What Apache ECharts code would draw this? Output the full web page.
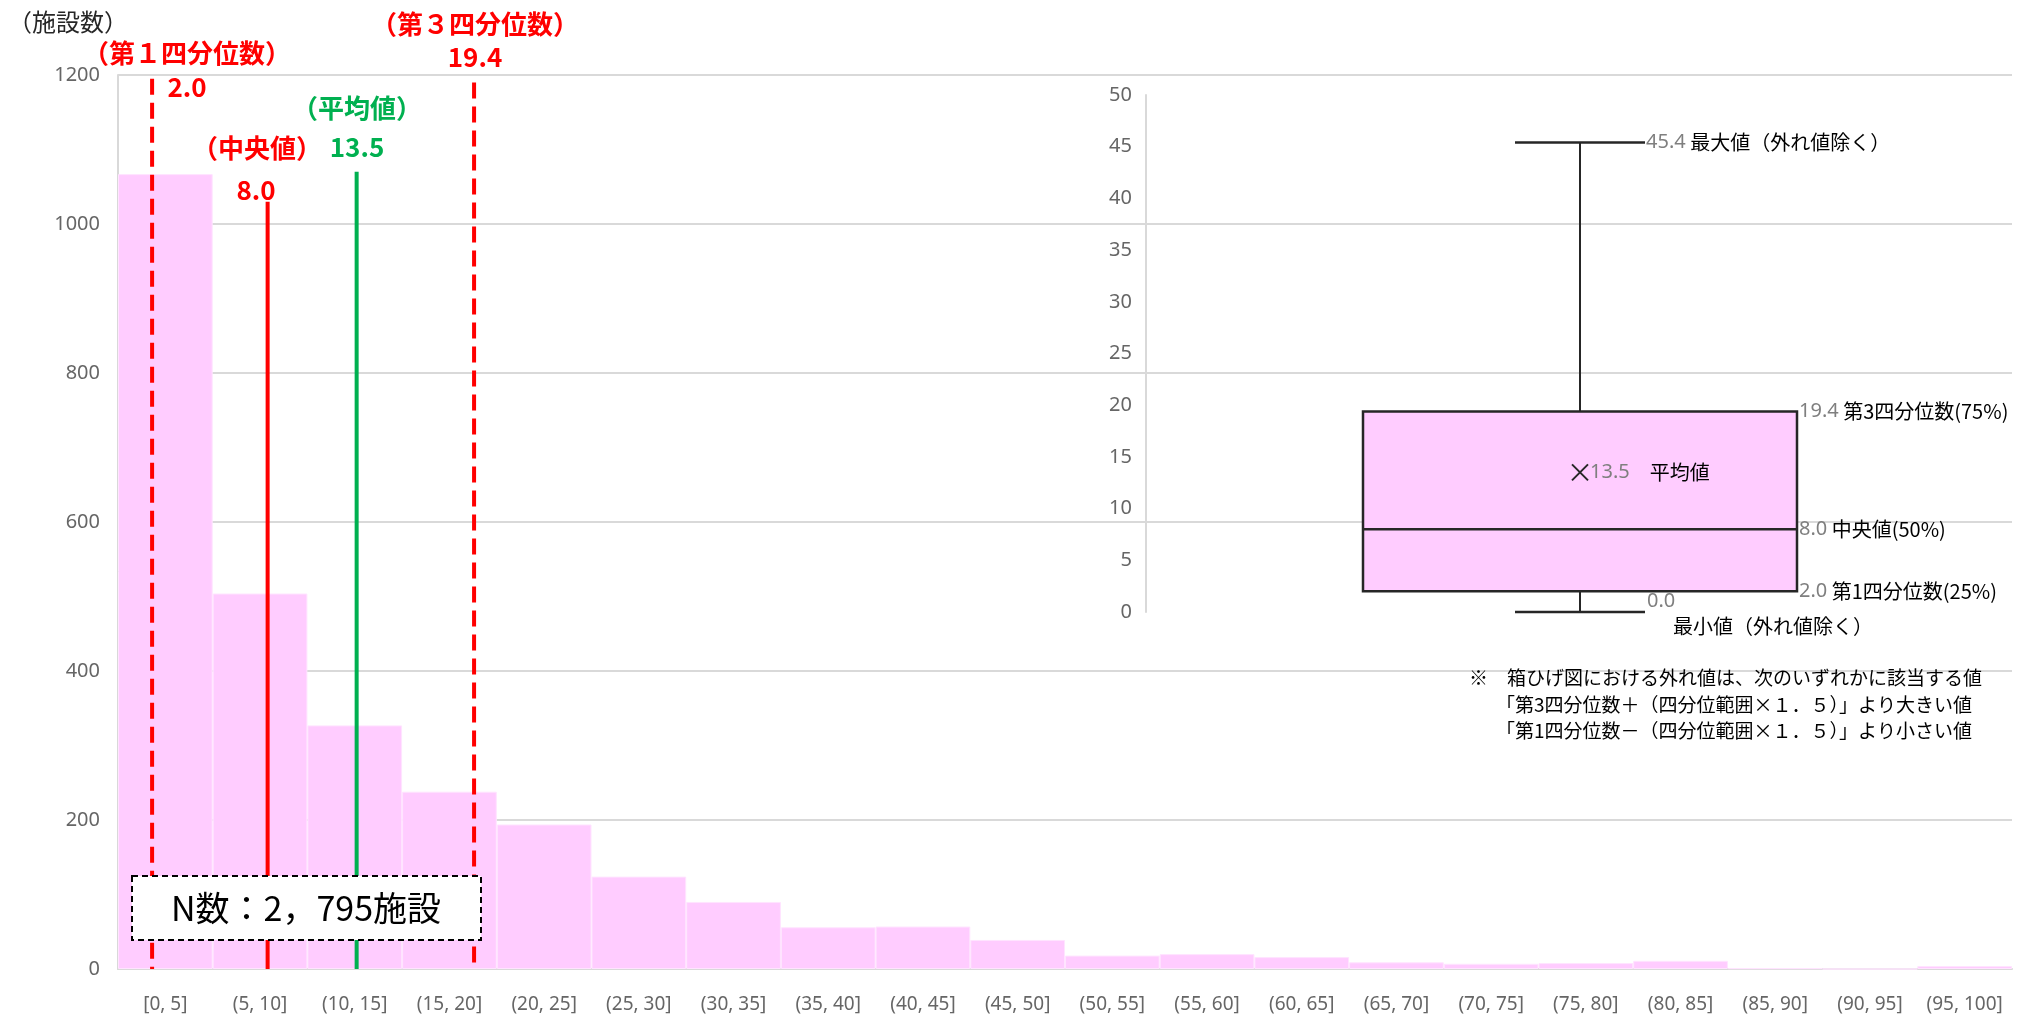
<!DOCTYPE html>
<html>
<head>
<meta charset="utf-8">
<script src="https://cdn.jsdelivr.net/npm/echarts@6/dist/echarts.min.js"></script>
<style>
  html, body { margin: 0; padding: 0; background: #fff; }
  #chart { width: 2042px; height: 1014px; }
</style>
</head>
<body>
<div id="chart"></div>
<script>
// ヒストグラム（施設数）
var binLabels = ["[0, 5]", "(5, 10]", "(10, 15]", "(15, 20]", "(20, 25]", "(25, 30]", "(30, 35]",
  "(35, 40]", "(40, 45]", "(45, 50]", "(50, 55]", "(55, 60]", "(60, 65]", "(65, 70]", "(70, 75]",
  "(75, 80]", "(80, 85]", "(85, 90]", "(90, 95]", "(95, 100]"];
var binCounts = [1067, 504, 327, 238, 194, 124, 90, 56, 57, 39, 18, 20, 16, 9, 7, 8, 11, 1, 0, 4];

// 縦線（第1四分位数, 中央値, 平均値, 第3四分位数）
var refNames = ["（第１四分位数）", "（中央値）", "（平均値）", "（第３四分位数）"];
var refValues = ["2.0", "8.0", "13.5", "19.4"];
var refX = [1.8, 7.9, 12.6, 18.8];       // 図上の位置（横軸 0-100）
var refTop = [1195, 1030, 1070, 1190];   // 線の上端（施設数軸）

// 箱ひげ図: 最小, 第1四分位, 中央値, 第3四分位, 最大, 平均
var boxStats = [0.0, 2.0, 8.0, 19.4, 45.4, 13.5];

var sampleSize = "N数：2，795施設";
var noteLines = [
  "※　箱ひげ図における外れ値は、次のいずれかに該当する値",
  "「第3四分位数＋（四分位範囲×１．５）」より大きい値",
  "「第1四分位数－（四分位範囲×１．５）」より小さい値"
];

var JP = "'Noto Sans CJK JP', 'Noto Sans', sans-serif";
var NUM = "'Liberation Sans Narrow', 'Noto Sans', sans-serif";
var RED = "#ff0000", GREEN = "#00b050", GRAY = "#666666", GRID = "#d9d9d9";

var chart = echarts.init(document.getElementById("chart"));

// 縦線シリーズ
var refColors = [RED, RED, GREEN, RED];
var refTypes = [[16, 8], "solid", "solid", [16, 8]];
var refSeries = refX.map(function (x, i) {
  return {
    type: "line",
    xAxisIndex: 1,
    yAxisIndex: 0,
    data: [[x, refTop[i]], [x, 0]],
    symbol: "none",
    silent: true,
    z: 5,
    lineStyle: { color: refColors[i], width: 4, type: refTypes[i] }
  };
});

// 縦線の見出し
var refLabelPos = [[187, 53, 187, 87], [257, 148, 256, 190], [357, 108, 357, 147], [475, 24, 475, 57]];
var headerTexts = [];
refNames.forEach(function (name, i) {
  var p = refLabelPos[i];
  headerTexts.push({
    type: "text", x: p[0], y: p[1], z: 50,
    style: { text: name, font: "bold 26px " + JP, fill: refColors[i], align: "center", verticalAlign: "middle" }
  });
  headerTexts.push({
    type: "text", x: p[2], y: p[3], z: 50,
    style: { text: refValues[i], font: "bold 26px " + JP, fill: refColors[i], align: "center", verticalAlign: "middle" }
  });
});

function renderBox(params, api) {
  var cx = api.coord([0, 0])[0];
  var y = function (v) { return api.coord([0, v])[1]; };
  var vMin = api.value(1), vQ1 = api.value(2), vMed = api.value(3),
    vQ3 = api.value(4), vMax = api.value(5), vMean = api.value(6);
  var yMin = y(vMin), yQ1 = y(vQ1), yMed = y(vMed), yQ3 = y(vQ3), yMax = y(vMax), yMean = y(vMean);
  var hw = 217, cw = 65;
  var ink = { stroke: "#262626", lineWidth: 2.5 };
  var rich = { g: { fill: "#7f7f7f", font: "20px " + NUM } };
  function lab(x, yy, text) {
    return {
      type: "text",
      style: { text: text, x: x, y: yy, font: "20px " + JP, fill: "#000", align: "left", verticalAlign: "middle", rich: rich }
    };
  }
  return {
    type: "group",
    children: [
      { type: "line", shape: { x1: cx, y1: yQ3, x2: cx, y2: yMax }, style: { stroke: "#262626", lineWidth: 2 } },
      { type: "line", shape: { x1: cx, y1: yQ1, x2: cx, y2: yMin }, style: { stroke: "#262626", lineWidth: 2 } },
      { type: "line", shape: { x1: cx - cw, y1: yMax, x2: cx + cw, y2: yMax }, style: ink },
      { type: "line", shape: { x1: cx - cw, y1: yMin, x2: cx + cw, y2: yMin }, style: ink },
      { type: "rect", shape: { x: cx - hw, y: yQ3, width: hw * 2, height: yQ1 - yQ3 },
        style: { fill: "#ffccff", stroke: "#262626", lineWidth: 2.5 } },
      { type: "line", shape: { x1: cx - hw, y1: yMed, x2: cx + hw, y2: yMed }, style: ink },
      { type: "line", shape: { x1: cx - 8, y1: yMean - 8, x2: cx + 8, y2: yMean + 8 }, style: { stroke: "#262626", lineWidth: 2 } },
      { type: "line", shape: { x1: cx - 8, y1: yMean + 8, x2: cx + 8, y2: yMean - 8 }, style: { stroke: "#262626", lineWidth: 2 } },
      lab(cx + 10, yMean, "{g|" + vMean.toFixed(1) + "}　平均値"),
      lab(cx + cw + 1, yMax, "{g|" + vMax.toFixed(1) + "} 最大値（外れ値除く）"),
      lab(cx + hw + 2, yQ3, "{g|" + vQ3.toFixed(1) + "} 第3四分位数(75%)"),
      lab(cx + hw + 2, yMed, "{g|" + vMed.toFixed(1) + "} 中央値(50%)"),
      lab(cx + hw + 2, yQ1, "{g|" + vQ1.toFixed(1) + "} 第1四分位数(25%)"),
      lab(cx + cw + 2, yMin - 11, "{g|" + vMin.toFixed(1) + "}"),
      lab(cx + 93, yMin + 14, "最小値（外れ値除く）")
    ]
  };
}

var option = {
  backgroundColor: "#fff",
  animation: false,
  grid: [
    { left: 118, right: 30, top: 75, bottom: 45 },
    { left: 1146, top: 95, width: 868, height: 517 }
  ],
  xAxis: [
    {
      type: "category",
      gridIndex: 0,
      data: binLabels,
      axisTick: { show: false },
      axisLine: { lineStyle: { color: GRID, width: 2 } },
      axisLabel: { interval: 0, color: GRAY, fontSize: 19, fontFamily: "Noto Sans", margin: 26 }
    },
    { type: "value", gridIndex: 0, min: 0, max: 100, show: false },
    { type: "category", gridIndex: 1, data: [""], show: false }
  ],
  yAxis: [
    {
      type: "value",
      gridIndex: 0,
      min: 0,
      max: 1200,
      interval: 200,
      axisLine: { show: true, lineStyle: { color: GRID, width: 2 } },
      axisTick: { show: false },
      splitLine: { lineStyle: { color: GRID, width: 2 } },
      axisLabel: { color: GRAY, fontSize: 20, fontFamily: "Noto Sans", margin: 18,
        formatter: function (v) { return String(v); } }
    },
    {
      type: "value",
      gridIndex: 1,
      min: 0,
      max: 50,
      interval: 5,
      axisLine: { show: true, lineStyle: { color: GRID, width: 2 } },
      axisTick: { show: false },
      splitLine: { show: false },
      axisLabel: { color: GRAY, fontSize: 20, fontFamily: "Noto Sans", margin: 14 }
    }
  ],
  series: [
    {
      type: "bar",
      xAxisIndex: 0,
      yAxisIndex: 0,
      data: binCounts,
      barCategoryGap: "0%",
      silent: true,
      z: 2,
      itemStyle: { color: "#ffccff", borderColor: "#ffe4ff", borderWidth: 1 }
    }
  ].concat(refSeries, [
    {
      type: "custom",
      xAxisIndex: 2,
      yAxisIndex: 1,
      z: 10,
      silent: true,
      encode: { x: 0, y: [1, 2, 3, 4, 5, 6] },
      data: [[0].concat(boxStats)],
      renderItem: renderBox
    }
  ]),
  graphic: [
    {
      type: "text", x: 8, y: 22, z: 50,
      style: { text: "（施設数）", font: "24px " + JP, fill: "#262626", align: "left", verticalAlign: "middle" }
    },
    {
      type: "group", z: 60,
      children: [
        { type: "rect", z: 60, shape: { x: 132, y: 876, width: 349, height: 64 },
          style: { fill: "#fff", stroke: "#000", lineWidth: 2, lineDash: [6, 4] } },
        { type: "text", z: 61, x: 306, y: 908,
          style: { text: sampleSize, font: "34px " + JP, fill: "#000", align: "center", verticalAlign: "middle" } }
      ]
    },
    { type: "text", x: 1469, y: 678, z: 50,
      style: { text: noteLines[0], font: "19px " + JP, fill: "#000", verticalAlign: "middle" } },
    { type: "text", x: 1496, y: 705, z: 50,
      style: { text: noteLines[1], font: "19px " + JP, fill: "#000", verticalAlign: "middle" } },
    { type: "text", x: 1496, y: 731, z: 50,
      style: { text: noteLines[2], font: "19px " + JP, fill: "#000", verticalAlign: "middle" } }
  ].concat(headerTexts)
};

chart.setOption(option);
</script>
</body>
</html>
